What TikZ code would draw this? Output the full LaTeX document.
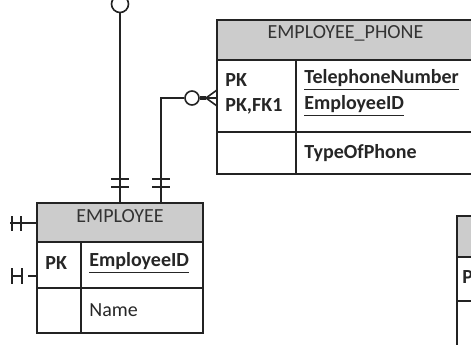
\documentclass[tikz,border=0pt]{standalone}
\usepackage{fontspec}
\setmainfont{Carlito}
\usetikzlibrary{positioning,fit}
\definecolor{hdrgray}{RGB}{204,204,204}
\definecolor{edgegray}{RGB}{35,35,35}
\tikzset{
    cell/.style={draw=edgegray, line width=1pt, inner sep=0pt},
    hdr/.style={cell, fill=hdrgray, text=black!80, font=\fontsize{10}{12}\selectfont},
    fld/.style={anchor=west, inner sep=0pt, text=black!85, font=\fontsize{10}{12}\selectfont\bfseries},
    plain/.style={fld, font=\fontsize{10}{12}\selectfont},
    rel/.style={draw=edgegray, line width=0.8pt},
    bar/.style={draw=edgegray, line width=1pt},
    optcirc/.style={circle, draw=edgegray, line width=0.8pt, fill=white, inner sep=0pt}
}

\begin{document}
\begin{tikzpicture}[x=0.5pt, y=-0.5pt]
    \useasboundingbox (0,0) rectangle (471,344);
    \clip (0,0) rectangle (471,344);

    % EMPLOYEE_PHONE
    \node[hdr, fit={(217,20) (474,60)}] (ph) {EMPLOYEE\_PHONE};
    \node[cell, fit={(217,60) (296,132)}] (phk1) {};
    \node[cell, fit={(296,60) (474,132)}] (phf1) {};
    \node[cell, fit={(217,132) (296,174)}] (phk2) {};
    \node[cell, fit={(296,132) (474,174)}] (phf2) {};
    \node[fld] (phpk) at (225,80) {PK};
    \node[fld] (phfk) at (225,106) {PK,FK1};
    \node[fld] (phtel) at (304,80) {\underline{TelephoneNumber}};
    \node[fld] (phemp) at (304,106) {\underline{EmployeeID}};
    \node[fld] (phtype) at (304,153) {TypeOfPhone};

    % EMPLOYEE
    \node[hdr, fit={(37,203) (203,242)}] (emp) {EMPLOYEE};
    \node[cell, fit={(37,242) (81,288)}] (ek1) {};
    \node[cell, fit={(81,242) (203,288)}] (ef1) {};
    \node[cell, fit={(37,288) (81,333)}] (ek2) {};
    \node[cell, fit={(81,288) (203,333)}] (ef2) {};
    \node[fld] (epk) at (45,263) {PK};
    \node[fld] (eid) at (89,263) {\underline{EmployeeID}};
    \node[plain] (ename) at (89,310) {Name};

    % table cut off at the right
    \node[hdr, fit={(457,216) (500,257)}] (rt) {};
    \node[cell, fit={(457,257) (500,301)}] (rk1) {};
    \node[cell, fit={(457,301) (500,360)}] (rk2) {};
    \node[fld] (rpk) at (462,277) {PK};

    % relationship coming from above
    \node[optcirc, minimum size=8.5pt] (o1) at (120,4) {};
    \draw[rel] (o1.south) -- (o1.south |- emp.north);

    % EMPLOYEE to EMPLOYEE_PHONE
    \coordinate (e2) at (161,203);
    \node[optcirc, minimum size=7pt] (o2) at (192,98) {};
    \coordinate (fk) at (206,98);
    \draw[rel] (e2) |- (o2.west);
    \draw[rel, line width=1.8pt] (o2.east) -- (fk);
    \foreach \dy in {-8,0,8}
        \draw[rel] (fk) -- (217,98+\dy);

    \foreach \y in {179,187} {
        \draw[bar] (111,\y) -- (129,\y);
        \draw[bar] (152,\y) -- (170,\y);
    }

    % marks on the left side
    \coordinate (l1) at (10,223);
    \draw[rel] (l1) -- (l1 -| emp.west);
    \foreach \x in {12,21}
        \draw[bar] (\x,216) -- (\x,231);
    \coordinate (l2) at (28,276);
    \draw[rel] (l2) -- (l2 -| ek1.west);
    \draw[rel] (12,276) -- (22,276);
    \foreach \x in {12,22}
        \draw[bar, line width=1.3pt] (\x,268) -- (\x,284);
\end{tikzpicture}
\end{document}
